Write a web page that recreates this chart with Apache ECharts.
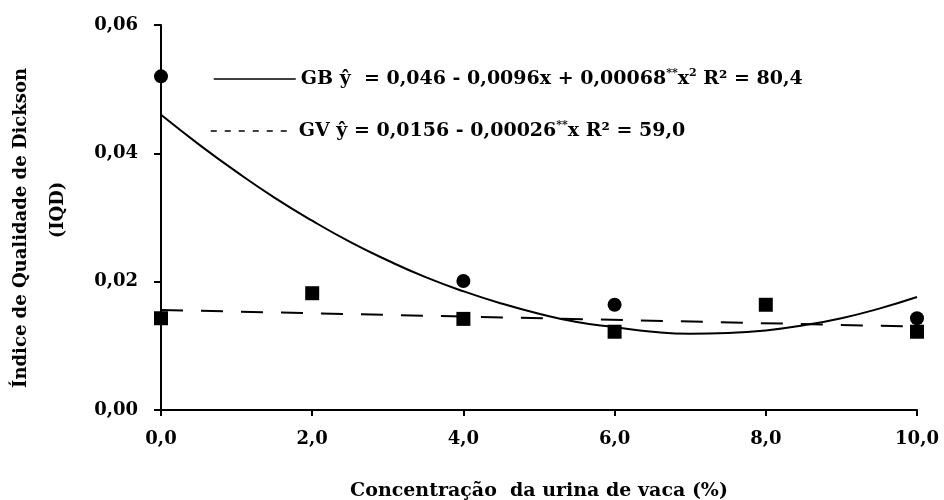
<!DOCTYPE html>
<html>
<head>
<meta charset="utf-8">
<script src="https://cdn.jsdelivr.net/npm/echarts@6/dist/echarts.min.js"></script>
<style>
  html, body { margin: 0; padding: 0; background: #fff; }
  #chart { width: 944px; height: 500px; }
</style>
</head>
<body>
<div id="chart"></div>
<script>
// Observed means (markers)
var gbX = [0, 4, 6, 10];
var gbObs = [0.0520, 0.0201, 0.0164, 0.0143];
var gvX = [0, 2, 4, 6, 8, 10];
var gvObs = [0.0143, 0.0182, 0.0142, 0.0122, 0.0164, 0.0122];

// Fitted curves
var gbFitX = [0, 0.5, 1, 1.5, 2, 2.5, 3, 3.5, 4, 4.5, 5, 5.5, 6, 6.5, 7, 7.5, 8, 8.5, 9, 9.5, 10];
var gbFit = [0.0460, 0.0414, 0.0371, 0.0331, 0.0295, 0.0262, 0.0233, 0.0207, 0.0185, 0.0166, 0.0150,
             0.0137, 0.0129, 0.0122, 0.0119, 0.0120, 0.0124, 0.0132, 0.0143, 0.0158, 0.0176];
var gvFitX = [0, 10];
var gvFit = [0.0156, 0.0130];

// Texts
var xTitle = 'Concentração  da urina de vaca (%)';
var yTitle = 'Índice de Qualidade de Dickson';
var yTitle2 = '(IQD)';
var gbEq = ['GB ŷ  = 0,046 - 0,0096x + 0,00068', '**', 'x', '2', ' R² = 80,4'];
var gvEq = ['GV ŷ = 0,0156 - 0,00026', '**', 'x R² = 59,0'];

var FONT = '"DejaVu Serif", "Liberation Serif", serif';

function pairs(xs, ys) {
    return xs.map(function (x, i) { return [x, ys[i]]; });
}

var chart = echarts.init(document.getElementById('chart'));

var richText = {
    t: { fontFamily: FONT, fontWeight: 'bold', fontSize: 19, color: '#000', lineHeight: 22 },
    s: { fontFamily: FONT, fontWeight: 'bold', fontSize: 11, color: '#000', verticalAlign: 'top', lineHeight: 22 }
};

chart.setOption({
    backgroundColor: '#fff',
    animation: false,
    grid: { left: 161, right: 27, top: 25, bottom: 90, containLabel: false, outerBoundsMode: 'none' },
    graphic: [
        {
            type: 'text', x: 21, y: 228, rotation: Math.PI / 2,
            style: {
                text: yTitle, fill: '#000',
                font: 'bold 18px ' + FONT,
                align: 'center', verticalAlign: 'middle',
                textAlign: 'center', textVerticalAlign: 'middle'
            }
        },
        {
            type: 'text', x: 58, y: 210, rotation: Math.PI / 2,
            style: {
                text: yTitle2, fill: '#000',
                font: 'bold 18px ' + FONT,
                align: 'center', verticalAlign: 'middle',
                textAlign: 'center', textVerticalAlign: 'middle'
            }
        }
    ],
    legend: [
        {
            data: [{ name: 'GB', itemStyle: { opacity: 0 }, lineStyle: { width: 1.5 } }],
            left: 213, top: 68,
            padding: 0,
            itemWidth: 82, itemHeight: 14,
            itemGap: 0,
            formatter: function () {
                return '{t|' + gbEq[0] + '}{s|' + gbEq[1] + '}{t|' + gbEq[2] + '}{s|' + gbEq[3] + '}{t|' + gbEq[4] + '}';
            },
            textStyle: { rich: richText }
        },
        {
            data: [{ name: 'GV', itemStyle: { opacity: 0 }, lineStyle: { type: [6, 8], width: 1.5 } }],
            left: 210, top: 120,
            padding: 0,
            itemWidth: 83, itemHeight: 14,
            itemGap: 0,
            formatter: function () {
                return '{t|' + gvEq[0] + '}{s|' + gvEq[1] + '}{t|' + gvEq[2] + '}';
            },
            textStyle: { rich: richText }
        }
    ],
    xAxis: {
        type: 'value',
        min: 0,
        max: 10,
        interval: 2,
        name: xTitle,
        nameLocation: 'middle',
        nameGap: 72,
        nameTextStyle: { fontFamily: FONT, fontWeight: 'bold', fontSize: 19, color: '#000' },
        axisLine: { lineStyle: { color: '#000', width: 2 } },
        axisTick: { show: true, length: 6, lineStyle: { color: '#000', width: 2 } },
        axisLabel: {
            margin: 20,
            fontFamily: FONT, fontWeight: 'bold', fontSize: 18, color: '#000',
            formatter: function (v) { return v.toFixed(1).replace('.', ','); }
        },
        splitLine: { show: false }
    },
    yAxis: {
        type: 'value',
        min: 0,
        max: 0.06,
        interval: 0.02,
        axisLine: { show: true, lineStyle: { color: '#000', width: 2 } },
        axisTick: { show: true, length: 7, lineStyle: { color: '#000', width: 2 } },
        axisLabel: {
            margin: 23,
            fontFamily: FONT, fontWeight: 'bold', fontSize: 18, color: '#000',
            formatter: function (v) { return v.toFixed(2).replace('.', ','); }
        },
        splitLine: { show: false }
    },
    series: [
        {
            name: 'GB',
            type: 'line',
            data: pairs(gbFitX, gbFit),
            smooth: true,
            symbol: 'none',
            lineStyle: { color: '#000', width: 2, type: 'solid' },
            itemStyle: { color: '#000' },
            z: 2
        },
        {
            name: 'GV',
            type: 'line',
            data: pairs(gvFitX, gvFit),
            symbol: 'none',
            lineStyle: { color: '#000', width: 2, type: [22, 18] },
            itemStyle: { color: '#000' },
            z: 2
        },
        {
            name: 'GB obs',
            type: 'scatter',
            data: pairs(gbX, gbObs),
            symbol: 'circle',
            symbolSize: 14,
            itemStyle: { color: '#000', opacity: 1 },
            z: 3
        },
        {
            name: 'GV obs',
            type: 'scatter',
            data: pairs(gvX, gvObs),
            symbol: 'rect',
            symbolSize: 14,
            itemStyle: { color: '#000', opacity: 1 },
            z: 3
        }
    ]
});
</script>
</body>
</html>
